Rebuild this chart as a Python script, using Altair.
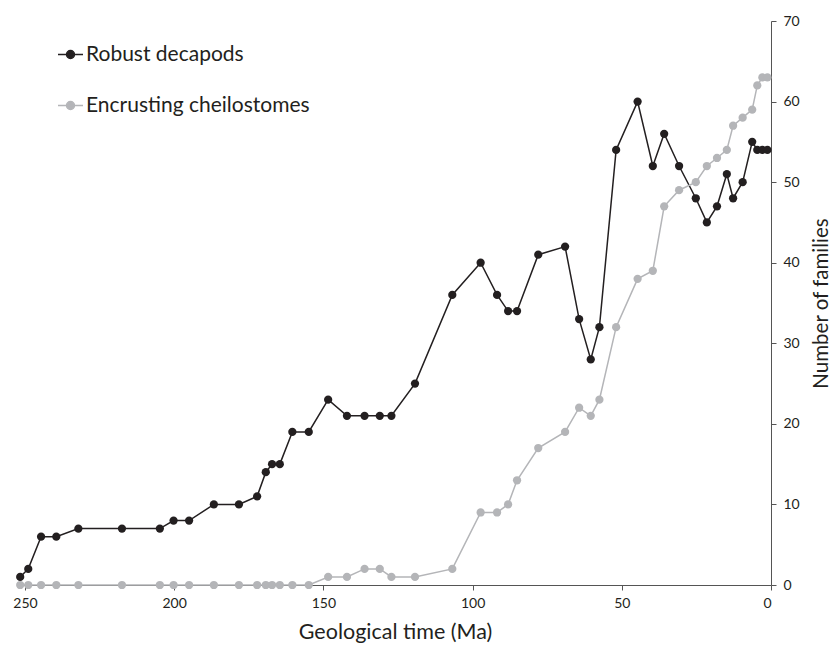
import altair as alt
import pandas as pd

# Geological time (Ma) of each sample point
times = [251.6, 248.9, 244.6, 239.5, 232.1, 217.5, 204.8, 200.2, 195.0, 186.7,
         178.3, 172.2, 169.3, 167.2, 164.6, 160.4, 154.9, 148.4, 142.1, 136.2,
         131.1, 127.2, 119.3, 106.8, 97.3, 91.8, 88.1, 85.1, 78.0, 69.0,
         64.3, 60.4, 57.5, 51.9, 44.7, 39.6, 35.8, 30.8, 25.2, 21.5,
         18.1, 14.8, 12.7, 9.5, 6.3, 4.6, 2.9, 1.2]

decapods = [1, 2, 6, 6, 7, 7, 7, 8, 8, 10,
            10, 11, 14, 15, 15, 19, 19, 23, 21, 21,
            21, 21, 25, 36, 40, 36, 34, 34, 41, 42,
            33, 28, 32, 54, 60, 52, 56, 52, 48, 45,
            47, 51, 48, 50, 55, 54, 54, 54]

cheilostomes = [0, 0, 0, 0, 0, 0, 0, 0, 0, 0,
                0, 0, 0, 0, 0, 0, 0, 1, 1, 2,
                2, 1, 1, 2, 9, 9, 10, 13, 17, 19,
                22, 21, 23, 32, 38, 39, 47, 49, 50, 52,
                53, 54, 57, 58, 59, 62, 63, 63]

series_names = ["Robust decapods", "Encrusting cheilostomes"]
series_colors = ["#231f20", "#b4b5b8"]
x_ticks = [250, 200, 150, 100, 50, 0]
y_ticks = [0, 10, 20, 30, 40, 50, 60, 70]

df = pd.concat([
    pd.DataFrame({"time": times, "families": decapods, "series": series_names[0], "order": 2}),
    pd.DataFrame({"time": times, "families": cheilostomes, "series": series_names[1], "order": 1}),
])

FONT = "Lato"

legend_symbol = ("M-1,0L1,0"
                 "M-0.32,0A0.32,0.32 0 1,1 0.32,0A0.32,0.32 0 1,1 -0.32,0Z")

x_enc = alt.X(
    "time:Q",
    scale=alt.Scale(domain=[252, 0], nice=False, zero=False),
    axis=alt.Axis(
        title="Geological time (Ma)", values=x_ticks, grid=False,
        tickSize=5, labelPadding=6, titlePadding=11,
        labelFontSize=14, titleFontSize=21.5, titleFontWeight="normal",
        labelColor="#231f20", titleColor="#231f20",
        domainColor="#555555", tickColor="#555555", labelFont=FONT, titleFont=FONT,
    ),
)
y_enc = alt.Y(
    "families:Q",
    scale=alt.Scale(domain=[0, 70], nice=False),
    axis=alt.Axis(
        orient="right", title="Number of families", values=y_ticks, grid=False,
        tickSize=5, labelPadding=7, titlePadding=32, titleAngle=270,
        labelFontSize=14, titleFontSize=20.5, titleFontWeight="normal",
        labelColor="#231f20", titleColor="#231f20",
        domainColor="#555555", tickColor="#555555", labelFont=FONT, titleFont=FONT,
    ),
)
color_enc = alt.Color(
    "series:N",
    scale=alt.Scale(domain=series_names, range=series_colors),
    legend=alt.Legend(
        title=None, orient="none", legendX=38, legendY=20,
        symbolType=legend_symbol, symbolSize=625, symbolStrokeWidth=1.5,
        labelFontSize=21, labelFont=FONT, labelColor="#231f20", labelOffset=2,
        rowPadding=27, labelLimit=400,
    ),
)

base = alt.Chart(df).encode(
    x=x_enc, y=y_enc, color=color_enc, order=alt.Order("order:Q"),
    detail="series:N",
)

lines = base.mark_line(strokeWidth=1.5)
points = base.mark_point(filled=True, opacity=1, size=68)

chart = alt.layer(lines, points).properties(
    width=752, height=564,
    padding={"left": 19, "top": 21, "right": 62, "bottom": 61},
    autosize=alt.AutoSizeParams(type="none"),
    background="white",
).configure_view(stroke=None)

chart.save("out.html", embed_options={"renderer": "svg", "actions": False})
